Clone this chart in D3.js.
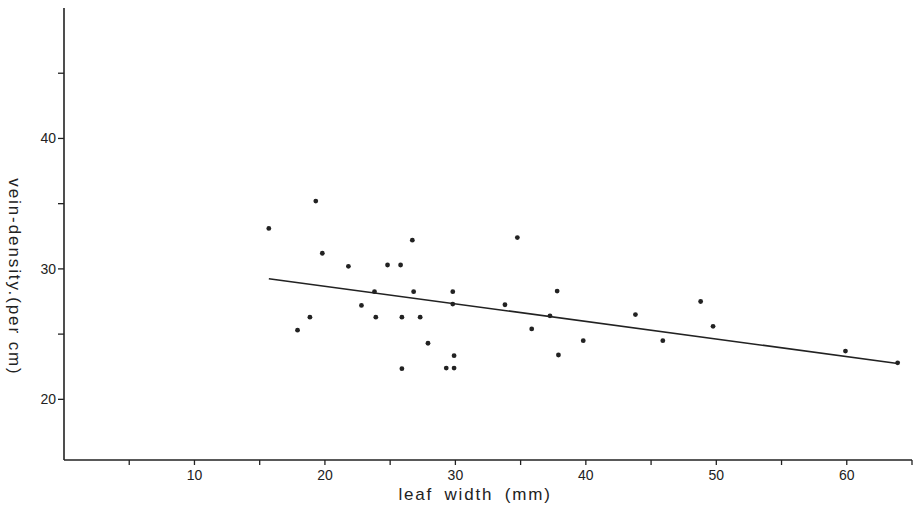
<!DOCTYPE html>
<html>
<head>
<meta charset="utf-8">
<script src="https://cdn.jsdelivr.net/npm/d3@7"></script>
<style>
  body { margin: 0; background: #fff; }
  text { font-family: "Liberation Sans", Arial, sans-serif; fill: #222; }
</style>
</head>
<body>
<div id="chart"></div>
<script>
// leaf width (mm) vs vein density (per cm)
const leafWidth = [15.7, 19.3, 19.8, 17.9, 18.85, 21.8, 22.8, 23.8, 23.9, 24.8,
                   25.8, 25.9, 25.9, 26.7, 26.8, 27.3, 27.9, 29.3, 29.8, 29.8,
                   29.9, 29.9, 33.8, 34.75, 35.85, 37.25, 37.8, 37.9, 39.8, 43.8,
                   45.9, 48.8, 49.75, 59.9, 63.9];
const veinDensity = [33.1, 35.2, 31.2, 25.3, 26.3, 30.2, 27.2, 28.25, 26.3, 30.3,
                     30.3, 26.3, 22.35, 32.2, 28.25, 26.3, 24.3, 22.4, 28.25, 27.3,
                     23.35, 22.4, 27.25, 32.4, 25.4, 26.4, 28.3, 23.4, 24.5, 26.5,
                     24.5, 27.5, 25.6, 23.7, 22.8];

// regression line end points
const fitX = [15.7, 63.9];
const fitY = [29.25, 22.75];

const xTicks = [5, 10, 15, 20, 25, 30, 35, 40, 45, 50, 55, 60, 65];
const xLabels = [10, 20, 30, 40, 50, 60];
const yTicks = [20, 25, 30, 35, 40, 45];
const yLabels = [20, 30, 40];

let width = 917,
height = 509;

let svg = d3.select("#chart")
  .append("svg")
  .attr("width", width)
  .attr("height", height);

let x = d3.scaleLinear().domain([0, 65]).range([64, 912]);
let y = d3.scaleLinear().domain([15.35, 50]).range([460, 8]);

const ink = "#222";

// y axis
let yAxis = svg.append("g").attr("transform", `translate(${x(0)},0)`);
yAxis.append("line")
  .attr("x1", 0).attr("x2", 0)
  .attr("y1", y(50)).attr("y2", y(15.35))
  .attr("stroke", ink).attr("stroke-width", 1.6);
yAxis.selectAll(".tick")
  .data(yTicks)
  .join("line")
  .attr("x1", -6).attr("x2", 0)
  .attr("y1", d => y(d)).attr("y2", d => y(d))
  .attr("stroke", ink).attr("stroke-width", 1.3);
yAxis.selectAll(".lab")
  .data(yLabels)
  .join("text")
  .attr("x", -8).attr("y", d => y(d))
  .attr("dy", "0.36em")
  .attr("text-anchor", "end")
  .style("font-size", "14px")
  .text(d => d);

// x axis
let xAxis = svg.append("g").attr("transform", `translate(0,${y(15.35)})`);
xAxis.append("line")
  .attr("x1", x(0)).attr("x2", x(65))
  .attr("y1", 0).attr("y2", 0)
  .attr("stroke", ink).attr("stroke-width", 1.6);
xAxis.selectAll(".tick")
  .data(xTicks)
  .join("line")
  .attr("x1", d => x(d)).attr("x2", d => x(d))
  .attr("y1", 0).attr("y2", 5)
  .attr("stroke", ink).attr("stroke-width", 1.3);
xAxis.selectAll(".lab")
  .data(xLabels)
  .join("text")
  .attr("x", d => x(d)).attr("y", 20)
  .attr("text-anchor", "middle")
  .style("font-size", "14px")
  .text(d => d);

// axis titles
svg.append("text")
  .attr("x", 475).attr("y", 500)
  .attr("text-anchor", "middle")
  .style("font-size", "17px")
  .style("letter-spacing", "1.8px")
  .style("word-spacing", "5px")
  .text("leaf width (mm)");

svg.append("text")
  .attr("transform", "translate(9,277) rotate(90)")
  .attr("text-anchor", "middle")
  .style("font-size", "17px")
  .style("letter-spacing", "1.9px")
  .text("vein-density.(per cm)");

// fitted line
svg.append("line")
  .attr("x1", x(fitX[0])).attr("y1", y(fitY[0]))
  .attr("x2", x(fitX[1])).attr("y2", y(fitY[1]))
  .attr("stroke", ink).attr("stroke-width", 1.6);

// points
svg.append("g")
  .selectAll("circle")
  .data(leafWidth)
  .join("circle")
  .attr("cx", d => x(d))
  .attr("cy", (d, i) => y(veinDensity[i]))
  .attr("r", 2.4)
  .attr("fill", ink);
</script>
</body>
</html>
